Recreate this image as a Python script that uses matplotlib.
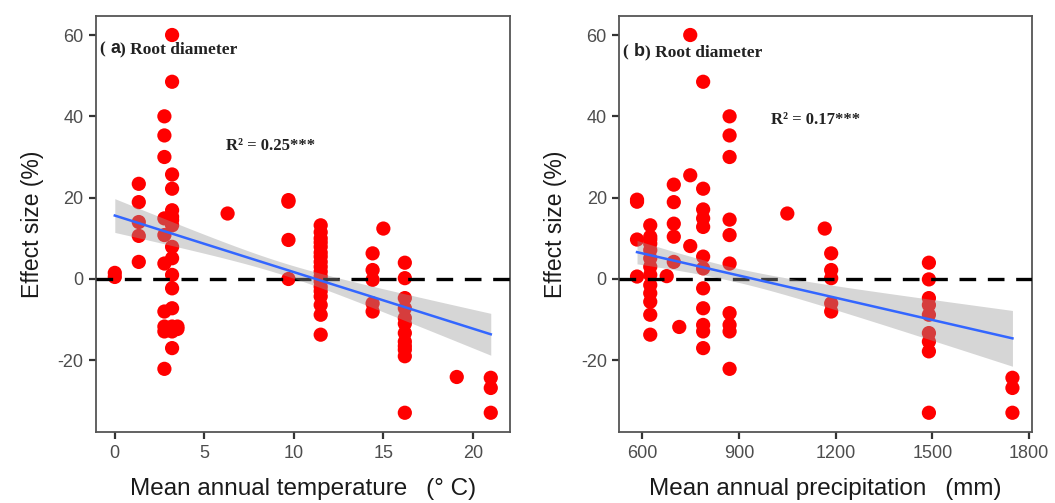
import numpy as np
import matplotlib
matplotlib.use("Agg")
import matplotlib.pyplot as plt

plt.rcParams["axes.unicode_minus"] = False

# ---------------- data ----------------
temp_sites = [0.0, 1.34, 2.77, 3.2, 3.5, 6.3, 9.7, 11.5, 14.4, 15.0, 16.2, 19.1, 21.0]
temp_effects = [
    [1.5, 0.5],
    [23.4, 18.9, 14.0, 10.6, 4.2],
    [40.0, 35.3, 30.0, 14.9, 10.8, 3.8, -8.0, -11.7, -12.9, -22.1],
    [60.0, 48.5, 25.7, 22.2, 16.9, 15.3, 14.5, 13.2, 7.9, 5.1, 1.0, -2.3, -7.2, -11.7, -12.9, -17.0],
    [-11.7, -12.3],
    [16.1],
    [19.4, 19.0, 9.6, 0.0],
    [13.2, 11.5, 10.0, 9.0, 7.9, 6.5, 5.5, 4.2, 3.0, 1.8, 0.6, -0.6, -1.9, -3.0, -4.3, -6.4, -8.8, -13.7],
    [6.3, 2.2, -0.2, -6.0, -8.0],
    [12.4],
    [4.0, 0.2, -4.7, -7.2, -9.6, -11.0, -13.3, -15.4, -16.5, -17.4, -19.0, -32.9],
    [-24.1],
    [-24.3, -26.8, -32.9],
]

prec_sites = [584, 625, 676, 698, 715, 749, 789, 871, 1050, 1166, 1186, 1489, 1748]
prec_effects = [
    [19.5, 19.0, 9.7, 0.6],
    [13.2, 10.4, 9.7, 8.7, 7.1, 5.1, 3.0, 1.0, -1.5, -3.5, -5.6, -8.8, -13.7],
    [0.7],
    [23.2, 18.9, 13.6, 10.4, 4.2],
    [-11.8],
    [60.0, 25.5, 8.1],
    [48.5, 22.2, 17.1, 14.9, 12.8, 5.5, 2.6, -2.3, -7.2, -11.3, -12.9, -17.0],
    [40.0, 35.3, 30.0, 14.6, 10.8, 3.8, -8.4, -11.3, -12.9, -22.1],
    [16.1],
    [12.4],
    [6.3, 2.2, 0.2, -6.0, -8.0],
    [4.0, -0.1, -4.7, -6.4, -8.8, -13.3, -15.4, -17.8, -32.9],
    [-24.3, -26.8, -32.9],
]

# fitted line (start value, end value over data range) and CI band shape (min half-width, slope, centre)
temp_fit = [15.6, -13.6]
temp_band = [1.5, 0.419, 9.24]
prec_fit = [6.6, -14.6]
prec_band = [1.7, 0.0077, 885.0]

r2_labels = ["R\u00b2 = 0.25***", "R\u00b2 = 0.17***"]
panel_letters = ["a", "b"]
panel_title = "Root diameter"
x_labels = ["Mean annual temperature\u2002 (\u00b0 C)", "Mean annual precipitation\u2002 (mm)"]
y_label = "Effect size (%)"
temp_ticks = [0, 5, 10, 15, 20]
prec_ticks = [600, 900, 1200, 1500, 1800]
y_ticks = [-20, 0, 20, 40, 60]

# ---------------- plotting ----------------
fig = plt.figure(figsize=(10.55, 5.03), dpi=100)
axA = fig.add_axes([0.091, 0.141, 0.392, 0.827])
axB = fig.add_axes([0.587, 0.141, 0.391, 0.827])

sans = ["Liberation Sans", "DejaVu Sans"]
serif = ["Liberation Serif", "DejaVu Serif"]

panels = [
    (axA, temp_sites, temp_effects, temp_fit, temp_band, temp_ticks, (-1.05, 22.05), (6.2, 32.6), 0.92),
    (axB, prec_sites, prec_effects, prec_fit, prec_band, prec_ticks, (529, 1808), (1000, 39.2), 0.913),
]

for i, (ax, sites, effs, fit, band, xt, xlim, r2pos, ty) in enumerate(panels):
    xs = np.concatenate([[s] * len(e) for s, e in zip(sites, effs)])
    ys = np.concatenate(effs)
    ax.scatter(xs, ys, s=105, color="#ff0000", edgecolors="none", zorder=2)
    ax.axhline(0, color="black", lw=2.4, ls=(0, (5, 3.5)), zorder=3)
    xline = np.linspace(min(sites), max(sites), 200)
    yline = fit[0] + (fit[1] - fit[0]) * (xline - xline[0]) / (xline[-1] - xline[0])
    h = np.sqrt(band[0] ** 2 + (band[1] * (xline - band[2])) ** 2)
    ax.fill_between(xline, yline - h, yline + h, color="#999999", alpha=0.4, lw=0, zorder=4)
    ax.plot(xline, yline, color="#3366ff", lw=1.8, zorder=5)

    ax.set_xlim(*xlim)
    ax.set_ylim(-37.65, 64.65)
    ax.set_xticks(xt)
    ax.set_yticks(y_ticks)
    for sp in ax.spines.values():
        sp.set_color("#555555")
        sp.set_linewidth(1.3)
    ax.tick_params(axis="both", length=5, width=1.6, color="#333333",
                   labelcolor="#4d4d4d", labelsize=13, pad=4)
    for lab in ax.get_xticklabels() + ax.get_yticklabels():
        lab.set_fontfamily(sans)
    ax.set_xlabel(x_labels[i], fontsize=17.5, family=sans, color="#1a1a1a", labelpad=12)
    ax.set_ylabel(y_label, fontsize=16.5, family=sans, color="#1a1a1a", labelpad=10)

    # panel title "( a) Root diameter"
    t1 = ax.text(0.01, ty, "( ", transform=ax.transAxes, fontsize=12.5,
                 fontweight="bold", family=serif, va="center", ha="left", color="#222222")
    t2 = ax.annotate(panel_letters[i], xy=(1, 0), xycoords=t1, va="bottom", ha="left",
                     fontsize=13, fontweight="bold", family=sans, color="#222222")
    ax.annotate(") " + panel_title, xy=(1, 0), xycoords=t2, va="bottom", ha="left",
                fontsize=12.5, fontweight="bold", family=serif, color="#222222")
    ax.text(r2pos[0], r2pos[1], r2_labels[i], fontsize=12, fontweight="bold",
            family=serif, va="center", ha="left", color="#222222")

fig.savefig("out.png", dpi=100)
